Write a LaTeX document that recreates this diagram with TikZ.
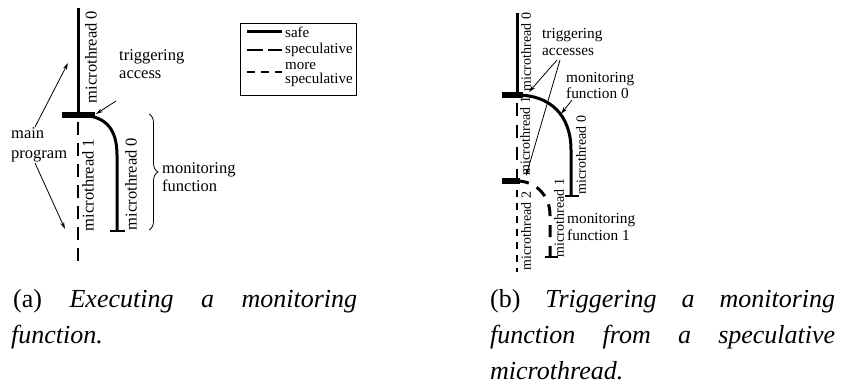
\documentclass[tikz,border=0pt]{standalone}
\usepackage{fontspec}
\setmainfont{Liberation Serif}
\usetikzlibrary{arrows.meta,decorations.pathreplacing}

\tikzset{
  lbl/.style={font=\fontsize{16.5}{18}\selectfont, inner sep=0pt},
  lblb/.style={font=\fontsize{14}{16}\selectfont, inner sep=0pt},
  lblbh/.style={font=\fontsize{15.3}{17}\selectfont, inner sep=0pt, anchor=west, align=left},
  leg/.style={font=\fontsize{15}{14}\selectfont, inner sep=0pt, anchor=west, align=left},
  safe/.style={line width=3pt},
  spec/.style={line width=2.2pt, dash pattern=on 13pt off 8pt},
  morespec/.style={line width=1.6pt, dash pattern=on 7pt off 6pt},
  trigbar/.style={line width=5.5pt},
  endtick/.style={line width=2pt},
  pointer/.style={line width=0.8pt, -{Stealth[length=7pt,width=4pt]}},
  captxt/.style={font=\fontsize{26}{28}\selectfont, inner sep=0pt, anchor=base west},
}

\begin{document}
\begin{tikzpicture}[x=1pt, y=-1pt]
\useasboundingbox (0,0) rectangle (849,385);

% ---------------- (a) executing a monitoring function ----------------
\coordinate (a0top) at (78,8);
\coordinate (a0trig) at (78,115);
\coordinate (abarL) at (62,115);
\coordinate (abarR) at (95,115);
\coordinate (a1bot) at (78,268);
\coordinate (amfbend) at (117,155);
\coordinate (amfend) at (117,231);

\draw[safe] (a0top) -- (a0trig);
\draw[trigbar] (abarL) -- (abarR);
\draw[spec] (78,122) -- (a1bot);
\draw[safe] (a0trig) .. controls (105,115) and (117,128) .. (amfbend) -- (amfend);
\draw[endtick] (110,231) -- (125,231);

\node[lbl, rotate=90] (amt0) at (91,57) {microthread 0};
\node[lbl, rotate=90] (amt1) at (88,185) {microthread 1};
\node[lbl, rotate=90] (amf0) at (131,184) {microthread 0};

\node[lbl, anchor=west, align=left] (atrig) at (119,64) {triggering\\access};
\coordinate (atrigfrom) at (116,101);
\coordinate (atrigto) at (96,114);
\draw[pointer] (atrigfrom) -- (atrigto);

\node[lbl, anchor=west, align=left, font=\fontsize{16.5}{20}\selectfont] (amain) at (11,145) {main\\program};
\coordinate (amainup) at (68,63);
\coordinate (amaindown) at (65,229);
\draw[pointer] (35,127) -- (amainup);
\draw[pointer] (35,163) -- (amaindown);

\draw[line width=0.8pt, decorate, decoration={brace, amplitude=9pt}] (149,114) -- (149,230);
\node[lbl, anchor=west, align=left] (amonf) at (162,177) {monitoring\\function};

% legend
\node[draw, line width=1pt, minimum width=116pt, minimum height=72pt, inner sep=0pt] (legend) at (298,60) {};
\draw[safe] (247,32) -- (282,32);
\draw[line width=2pt, dash pattern=on 16pt off 5pt] (247,50) -- (282,50);
\draw[line width=2pt, dash pattern=on 8pt off 6pt] (247,72) -- (282,72);
\node[leg] (lsafe) at (285,32) {safe};
\node[leg] (lspec) at (285,50) {speculative};
\node[leg] (lmore) at (285,75) {more\\speculative};

% ---------------- (b) triggering from a speculative microthread ----------------
\coordinate (b0top) at (517,13);
\coordinate (b0trig) at (517,95);
\coordinate (b1trig) at (517,181);
\coordinate (b2bot) at (517,272);
\coordinate (bmf0end) at (571,196);
\coordinate (bmf1end) at (550,257);

\draw[safe] (b0top) -- (b0trig);
\draw[trigbar] (502,95) -- (523,95);
\draw[spec, dash pattern=on 13pt off 9pt, dash phase=-8pt] (b0trig) -- (b1trig);
\draw[trigbar] (502,181) -- (520,181);
\draw[morespec] (517,190) -- (b2bot);

\draw[safe] (b0trig) .. controls (550,95) and (571,115) .. (571,150) -- (bmf0end);
\draw[endtick] (565,196) -- (579,196);

\draw[line width=3pt, dash pattern=on 12pt off 9pt] (b1trig) .. controls (535,181) and (550,195) .. (550,215) -- (bmf1end);
\draw[endtick] (545,257) -- (558,257);

\node[lblb, rotate=90] (bmt0) at (526,52) {microthread 0};
\node[lblb, rotate=90] (bmt1) at (525,136) {microthread 1};
\node[lblb, rotate=90] (bmf0) at (581,155) {microthread 0};
\node[lblb, rotate=90] (bmt2) at (526,231) {microthread 2};
\node[lblb, rotate=90] (bmf1) at (559,218) {microthread 1};

\node[lblbh] (btrig) at (542,42) {triggering\\accesses};
\coordinate (btrigto1) at (529,92);
\coordinate (btrigto2) at (526,176);
\draw[pointer] (557,60) -- (btrigto1);
\draw[pointer] (560,60) -- (btrigto2);

\node[lblbh, font=\fontsize{15.3}{16}\selectfont] (bmonf0) at (566,86) {monitoring\\function 0};
\coordinate (bmf0pt) at (561,114);
\draw[pointer] (572,100) -- (bmf0pt);

\node[lblbh] (bmonf1) at (567,227) {monitoring\\function 1};

% ---------------- captions ----------------
\node[captxt] (capa1) at (13,307) {\makebox[344pt][s]{(a) \textit{Executing a monitoring}}};
\node[captxt] (capa2) at (11,343) {\textit{function.}};
\node[captxt] (capb1) at (490,307) {\makebox[345pt][s]{(b) \textit{Triggering a monitoring}}};
\node[captxt] (capb2) at (490,343) {\makebox[345pt][s]{\textit{function from a speculative}}};
\node[captxt] (capb3) at (490,379) {\textit{microthread.}};
\end{tikzpicture}
\end{document}
